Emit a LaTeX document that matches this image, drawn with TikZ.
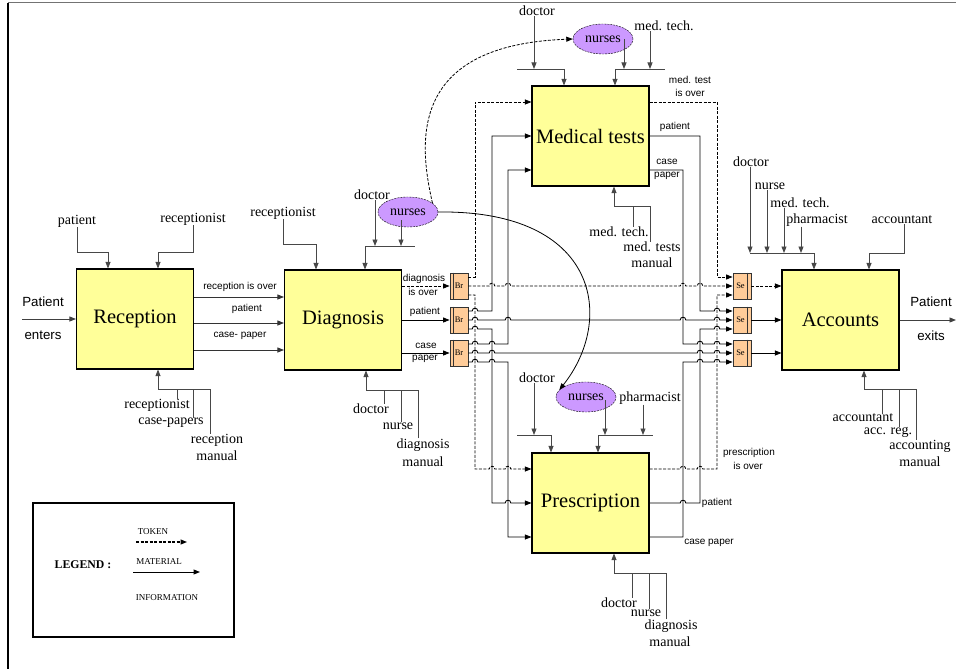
\documentclass[tikz,border=0pt]{standalone}
\usepackage{fontspec}
\setmainfont{Liberation Serif}
\setsansfont{Liberation Sans}
\usetikzlibrary{arrows.meta,shapes.geometric}
\definecolor{boxyellow}{HTML}{FFFF99}
\definecolor{gatetan}{HTML}{FFCC99}
\definecolor{nurselav}{HTML}{CC99FF}
% small bump where a horizontal line jumps over a vertical one at x=#1, y=#2
\newcommand\hop[2]{-- ({#1-2.8},#2) .. controls ({#1-2.8},{#2-3.7}) and ({#1+2.8},{#2-3.7}) .. ({#1+2.8},#2)}
\tikzset{
  box/.style={draw, line width=1.1pt, fill=boxyellow, minimum width=117pt, minimum height=100pt, inner sep=0pt, font=\fontsize{20.5}{22}\selectfont},
  nurse/.style={ellipse, draw, dash pattern=on 2pt off 1pt, fill=nurselav, minimum width=60pt, minimum height=30pt, inner sep=0pt, font=\fontsize{14}{14}\selectfont},
  gate/.style={draw=black!80, line width=0.8pt, fill=gatetan, minimum width=18pt, minimum height=26pt, inner sep=0pt, font=\fontsize{8.5}{9}\selectfont},
  lbl/.style={inner sep=0pt, font=\fontsize{14}{14}\selectfont},
  slbl/.style={inner sep=0pt, font=\sffamily\fontsize{10}{10}\selectfont},
  blbl/.style={inner sep=0pt, font=\sffamily\fontsize{13.3}{14}\selectfont},
  glbl/.style={inner sep=0pt, font=\fontsize{9}{9}\selectfont},
  flow/.style={draw=black, line width=0.85pt, -{Triangle[length=6.5pt,width=5pt]}},
  tok/.style={flow, dash pattern=on 3pt off 1.5pt},
  inp/.style={draw=black!72, line width=0.85pt, -{Triangle[length=6.5pt,width=5pt]}},
  inpl/.style={draw=black!72, line width=0.85pt},
}
\begin{document}
\begin{tikzpicture}[x=1pt,y=-1pt]
\useasboundingbox (0,0) rectangle (956,669);
% frame
\draw[black!55, line width=1pt] (8,3) -- (956,3);
\draw[black, line width=1.3pt] (8,3) -- (8,669);

% activity boxes
\node[box] (rec) at (135,319) {Reception};
\node[box] (dia) at (343,320) {Diagnosis};
\node[box] (med) at (590.5,136) {Medical tests};
\node[box] (pre) at (590.5,503) {Prescription};
\node[box] (acc) at (840.5,320) {Accounts};

% branch and select gates
\foreach \n/\y in {1/286,2/320,3/353}{
  \node[gate] (br\n) at (459,\y) {Br};
  \draw[black!80, line width=0.8pt] ([xshift=3.5pt]br\n.north west) -- ([xshift=3.5pt]br\n.south west);
  \node[gate] (se\n) at (742,\y) {\hspace*{-3pt}Se};
  \draw[black!80, line width=1.1pt] ([xshift=-3.5pt]se\n.north east) -- ([xshift=-3.5pt]se\n.south east);
}

% nurses pools
\node[nurse] (dn) at (408,212) {nurses};
\node[nurse] (mn) at (603,39) {nurses};
\node[nurse] (pn) at (586,397) {nurses};

% ---------- Reception ----------
\coordinate (pin) at (22,319);
\draw[flow, draw=black!75] (pin) -- (rec.west);
\node[blbl] (lpat) at (43,302) {Patient};
\node[blbl] (lent) at (43,335) {enters};

\node[lbl] (rpat) at (77,221) {patient};
\draw[inp] (rpat.south) |- (108,252) -- (rec.north -| 108,0);
\node[lbl] (rrec) at (193,219) {receptionist};
\draw[inp] (rrec.south) |- (158,252) -- (rec.north -| 158,0);

\node[lbl] (rb1) at (157,405) {receptionist};
\node[lbl] (rb2) at (171,423) {case-papers};
\node[lbl] (rb3) at (217,440) {reception};
\node[lbl] (rb4) at (217,456) {manual};
\draw[inp] (rb3.north -| 210,0) |- (158,389) -- (rec.south -| 158,0);
\draw[inpl] (177,389) -- (rb1.north -| 177,0);
\draw[inpl] (193,389) -- (rb2.north -| 193,0);

\draw[flow, draw=black!80] (rec.east |- 0,297) -- (dia.west |- 0,297);
\draw[flow, draw=black!80] (rec.east |- 0,323) -- (dia.west |- 0,323);
\draw[flow, draw=black!80] (rec.east |- 0,350) -- (dia.west |- 0,350);
\node[slbl] (lro) at (240,287) {reception is over};
\node[slbl] (lrp) at (247,309) {patient};
\node[slbl] (lrc) at (240,336) {case- paper};

% ---------- Diagnosis ----------
\node[lbl] (drec) at (283,213) {receptionist};
\draw[inp] (drec.south) |- (316,244) -- (dia.north -| 316,0);
\node[lbl] (ddoc) at (372,195) {doctor};
\draw[inp] (ddoc.south -| 375,0) -- (375,246);
\draw[inp] ([shift={(-7pt,-8pt)}]dn.center) -- (401,246);
\draw[inpl] (365,246) -- (415,246);
\draw[inp] (365,246) -- (dia.north -| 365,0);

\node[lbl] (db1) at (371,409) {doctor};
\node[lbl] (db2) at (398,426) {nurse};
\node[lbl] (db3) at (423,445) {diagnosis};
\node[lbl] (db4) at (423,462) {manual};
\draw[inp] (db3.north -| 418,0) |- (366,390) -- (dia.south -| 366,0);
\draw[inpl] (384,390) -- (db1.north -| 384,0);
\draw[inpl] (401,390) -- (db2.north -| 401,0);

\draw[tok] (dia.east |- br1) -- (br1.west);
\draw[flow] (dia.east |- br2) -- (br2.west);
\draw[flow] (dia.east |- br3) -- (br3.west);
\node[slbl] (ldo1) at (424,279) {diagnosis};
\node[slbl] (ldo2) at (423,292) {is over};
\node[slbl] (ldp) at (425,312) {patient};
\node[slbl] (ldc1) at (426,346) {case};
\node[slbl] (ldc2) at (425,359) {paper};

% nurses moving between pools
\draw[tok, line width=0.8pt] (dn.20) .. controls (418,140) and (410,45) .. (mn.west);
\draw[flow, line width=0.8pt] (dn.east) .. controls (600,210) and (615,320) .. (pn.165);

% ---------- Medical tests ----------
\node[lbl] (mdoc) at (537,11) {doctor};
\draw[inp] (mdoc.south -| 534,0) -- (534,69);
\draw[inpl] (517,69) -- (564,69);
\draw[inp] (564,69) -- (med.north -| 564,0);
\draw[inp] ([xshift=21pt]mn.center) -- (624,69);
\node[lbl] (mtech) at (664,26) {med. tech.};
\draw[inp] (mtech.south -| 650,0) -- (650,69);
\draw[inpl] (615,69) -- (665,69);
\draw[inp] (615,69) -- (med.north -| 615,0);

\node[lbl] (mb1) at (619,232) {med. tech.};
\node[lbl] (mb2) at (652,247) {med. tests};
\node[lbl] (mb3) at (652,263) {manual};
\draw[inp] (mb2.north -| 650,0) |- (614,206) -- (med.south -| 614,0);
\draw[inpl] (633,206) -- (mb1.north -| 633,0);

\node[slbl] (lmo1) at (690,80) {med. test};
\node[slbl] (lmo2) at (690,93) {is over};
\node[slbl] (lmp) at (675,127) {patient};
\node[slbl] (lmc1) at (667,162) {case};
\node[slbl] (lmc2) at (667,176) {paper};

% ---------- Prescription ----------
\node[lbl] (pdoc) at (537,378) {doctor};
\draw[inp] (pdoc.south -| 534,0) -- (534,435);
\draw[inpl] (517,435) -- (551,435);
\draw[inp] (551,435) -- (pre.north -| 551,0);
\draw[inp] ([shift={(19pt,-3pt)}]pn.center) -- (605,435);
\node[lbl] (pph) at (650,398) {pharmacist};
\draw[inp] (pph.south -| 643,0) -- (643,435);
\draw[inpl] (598,435) -- (653,435);
\draw[inp] (598,435) -- (pre.north -| 598,0);

\node[lbl] (pb1) at (619,603) {doctor};
\node[lbl] (pb2) at (646,613) {nurse};
\node[lbl] (pb3) at (671,626) {diagnosis};
\node[lbl] (pb4) at (670,642) {manual};
\draw[inp] (pb3.north -| 666,0) |- (614,573) -- (pre.south -| 614,0);
\draw[inpl] (632,573) -- (pb1.north -| 632,0);
\draw[inpl] (649,573) -- (pb2.north -| 649,0);

\node[slbl] (lpo1) at (749,453) {prescription};
\node[slbl] (lpo2) at (748,466) {is over};
\node[slbl] (lpp) at (717,503) {patient};
\node[slbl] (lpc) at (709,543) {case paper};

% ---------- token routing ----------
\draw[tok] ([yshift=9pt]br1.east) -- (475,277) -- (475,102) -- (med.west |- 0,102);
\draw[tok] (br1.east) \hop{492}{286} \hop{508}{286} \hop{683}{286} \hop{700}{286} -- (se1.west);
\draw[tok] ([yshift=-9pt]br1.east) -- (475,295) -- (475,469) \hop{492}{469} \hop{508}{469} -- (pre.west |- 0,469);
\draw[tok] (med.east |- 0,102) -- (717,102) -- (717,277) -- ([yshift=9pt]se1.west);
\draw[tok] (pre.east |- 0,469) \hop{683}{469} \hop{700}{469} -- (717,469) -- (717,295) -- ([yshift=-9pt]se1.west);

% ---------- patient routing ----------
\draw[flow] ([yshift=9pt]br2.east) \hop{475}{311} -- (492,311) -- (492,136) -- (med.west);
\draw[flow] (br2.east) \hop{475}{320} \hop{508}{320} \hop{683}{320} \hop{717}{320} -- (se2.west);
\draw[flow] ([yshift=-9pt]br2.east) \hop{475}{329} -- (492,329) -- (492,503) \hop{508}{503} -- (pre.west);
\draw[flow] (med.east) -- (700,136) -- (700,311) \hop{717}{311} -- ([yshift=9pt]se2.west);
\draw[flow] (pre.east) \hop{683}{503} -- (700,503) -- (700,329) \hop{717}{329} -- ([yshift=-9pt]se2.west);

% ---------- case paper routing ----------
\draw[flow] ([yshift=9pt]br3.east) \hop{475}{344} \hop{492}{344} -- (508,344) -- (508,170) -- (med.west |- 0,170);
\draw[flow] (br3.east) \hop{475}{353} \hop{492}{353} \hop{700}{353} \hop{717}{353} -- (se3.west);
\draw[flow] ([yshift=-9pt]br3.east) \hop{475}{362} \hop{492}{362} -- (508,362) -- (508,537) -- (pre.west |- 0,537);
\draw[flow] (med.east |- 0,170) -- (683,170) -- (683,344) \hop{700}{344} \hop{717}{344} -- ([yshift=9pt]se3.west);
\draw[flow] (pre.east |- 0,537) -- (683,537) -- (683,362) \hop{700}{362} \hop{717}{362} -- ([yshift=-9pt]se3.west);

% ---------- Accounts ----------
\draw[tok] (se1.east) -- (acc.west |- se1);
\draw[flow] (se2.east) -- (acc.west |- se2);
\draw[flow] (se3.east) -- (acc.west |- se3);

\node[lbl] (ad1) at (751,162) {doctor};
\node[lbl] (ad2) at (770,186) {nurse};
\node[lbl] (ad3) at (800,203) {med. tech.};
\node[lbl] (ad4) at (817,220) {pharmacist};
\node[lbl] (aacc) at (902,220) {accountant};
\draw[inp] (ad1.south -| 750,0) -- (750,253);
\draw[inp] (ad2.south -| 767,0) -- (767,253);
\draw[inp] (ad3.south -| 784,0) -- (784,253);
\draw[inp] (ad4.south -| 801,0) -- (801,253);
\draw[inpl] (750,253) -- (814,253);
\draw[inp] (814,253) -- (acc.north -| 814,0);
\draw[inp] (aacc.south -| 904,0) |- (869,253) -- (acc.north -| 869,0);

\node[lbl] (ab1) at (863,418) {accountant};
\node[lbl] (ab2) at (888,432) {acc. reg.};
\node[lbl] (ab3) at (920,446) {accounting};
\node[lbl] (ab4) at (920,462) {manual};
\draw[inp] (ab3.north -| 916,0) |- (864,389) -- (acc.south -| 864,0);
\draw[inpl] (882,389) -- (ab1.north -| 882,0);
\draw[inpl] (899,389) -- (ab2.north -| 899,0);

\coordinate (pout) at (956,320);
\draw[flow, draw=black!75] (acc.east) -- (pout);
\node[blbl] (lpx) at (931,302) {Patient};
\node[blbl] (lex) at (931,336) {exits};

% ---------- legend ----------
\node[draw, line width=2pt, minimum width=201pt, minimum height=134pt, inner sep=0pt] (legend) at (133.5,570) {};
\node[inner sep=0pt, font=\bfseries\fontsize{11.8}{12}\selectfont] (lgt) at (83,565) {LEGEND :};
\node[glbl] (ltok) at (153,532) {TOKEN};
\coordinate (lta) at (136,542);
\coordinate (ltb) at (187,542);
\draw[tok, line width=1.2pt] (lta) -- (ltb);
\node[glbl] (lmat) at (159,562) {MATERIAL};
\coordinate (lma) at (133,572);
\coordinate (lmb) at (200,572);
\draw[flow, line width=1pt] (lma) -- (lmb);
\node[glbl] (linf) at (167,598) {INFORMATION};
\end{tikzpicture}
\end{document}
